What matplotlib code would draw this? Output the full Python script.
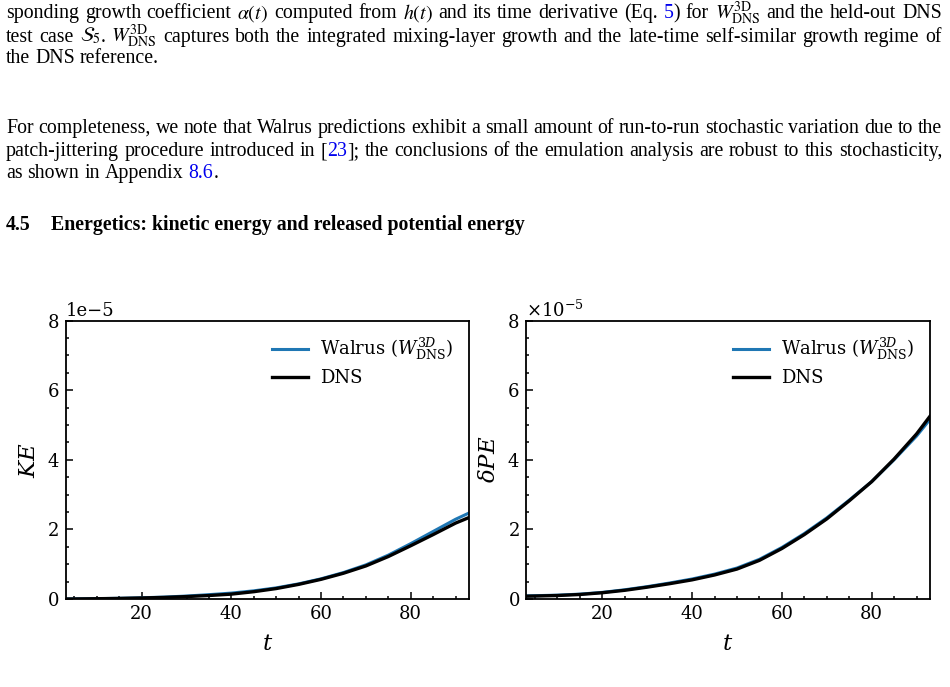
import matplotlib
matplotlib.use("Agg")
import matplotlib.pyplot as plt
from matplotlib.ticker import MultipleLocator, ScalarFormatter

# ---------------- data ----------------
t = [3, 5, 10, 15, 20, 25, 30, 35, 40, 45, 50, 55, 60, 65, 70, 75, 80, 85, 90, 93]
ke_dns = [0.0, 0.002, 0.008, 0.016, 0.03, 0.045, 0.07, 0.10, 0.14, 0.21, 0.30,
          0.42, 0.565, 0.74, 0.95, 1.22, 1.53, 1.85, 2.18, 2.34]
ke_walrus = [0.0, 0.003, 0.01, 0.02, 0.035, 0.055, 0.085, 0.125, 0.17, 0.235, 0.32,
             0.435, 0.58, 0.76, 0.98, 1.26, 1.59, 1.94, 2.29, 2.47]
pe_dns = [0.08, 0.085, 0.10, 0.13, 0.18, 0.25, 0.34, 0.44, 0.55, 0.69, 0.86,
          1.11, 1.45, 1.85, 2.30, 2.82, 3.37, 4.02, 4.74, 5.25]
pe_walrus = [0.09, 0.095, 0.11, 0.14, 0.19, 0.265, 0.355, 0.46, 0.575, 0.715, 0.89,
             1.14, 1.48, 1.88, 2.33, 2.84, 3.37, 4.00, 4.68, 5.16]
scale = 1e-5
walrus_label = r'Walrus ($W^{3D}_{\mathrm{DNS}}$)'
dns_label = 'DNS'

W, H = 950, 687
plt.rcParams['font.family'] = 'DejaVu Serif'
plt.rcParams['mathtext.fontset'] = 'dejavuserif'
fig = plt.figure(figsize=(W / 100, H / 100), dpi=100)


def ax_rect(x0, x1, ytop, ybot):
    return [x0 / W, 1 - ybot / H, (x1 - x0) / W, (ybot - ytop) / H]


panels = [
    (ax_rect(65.5, 469, 320.5, 599), ke_walrus, ke_dns, r'$KE$', False),
    (ax_rect(526, 930, 320.5, 599), pe_walrus, pe_dns, r'$\delta PE$', True),
]

for rect, yw, yd, ylab, mathoff in panels:
    ax = fig.add_axes(rect)
    ax.plot(t, [v * scale for v in yw], color='#1f77b4', lw=2.2, label=walrus_label)
    ax.plot(t, [v * scale for v in yd], color='black', lw=2.4, label=dns_label)
    ax.set_xlim(3, 93)
    ax.set_ylim(0, 8e-5)
    ax.set_xticks([20, 40, 60, 80])
    ax.set_yticks([0, 2e-5, 4e-5, 6e-5, 8e-5])
    ax.xaxis.set_minor_locator(MultipleLocator(5))
    ax.yaxis.set_minor_locator(MultipleLocator(0.5e-5))
    fmt = ScalarFormatter(useMathText=mathoff)
    fmt.set_powerlimits((-1, 1))
    ax.yaxis.set_major_formatter(fmt)
    ax.tick_params(which='both', direction='in', top=False, right=False,
                   labelsize=13, width=1.1)
    ax.tick_params(which='major', length=5, pad=4.5)
    ax.tick_params(which='minor', length=2.5)
    ax.yaxis.get_offset_text().set_fontsize(13)
    for s in ax.spines.values():
        s.set_linewidth(1.3)
    ax.set_xlabel(r'$t$', fontsize=16.5, labelpad=7)
    ax.set_ylabel(ylab, fontsize=16.5, labelpad=5.5)
    ax.legend(loc='upper right', frameon=False, fontsize=13,
              labelspacing=0.4, handletextpad=0.65, borderaxespad=0.45)

# ---------------- paper text ----------------
renderer = fig.canvas.get_renderer()
BLUE = '#0000ee'
TX0, TX1 = 6, 942
FS = 14.3


def draw_line(words, y_px, justify=True, weight='normal'):
    """words: list of words, each a list of (string, color) segments."""
    items = []
    widths = []
    for word in words:
        segs = []
        wsum = 0.0
        for s, c in word:
            txt = fig.text(0, 1 - y_px / H, s, fontsize=FS, family='Liberation Serif',
                           math_fontfamily='stix', color=c or 'black', weight=weight,
                           va='baseline', ha='left')
            bb = txt.get_window_extent(renderer)
            segs.append((txt, wsum))
            wsum += bb.width
        items.append(segs)
        widths.append(wsum)
    n = len(words)
    if justify and n > 1:
        gap = (TX1 - TX0 - sum(widths)) / (n - 1)
    else:
        sp = fig.text(0, 0, 'a a', fontsize=FS, family='Liberation Serif')
        sp2 = fig.text(0, 0, 'aa', fontsize=FS, family='Liberation Serif')
        gap = sp.get_window_extent(renderer).width - sp2.get_window_extent(renderer).width
        sp.remove(); sp2.remove()
    x = TX0
    for segs, w in zip(items, widths):
        for txt, off in segs:
            txt.set_x((x + off) / W)
        x += w + gap


def parse(line):
    out = []
    for w in line:
        if isinstance(w, list):
            out.append(w)
        else:
            out.append([(w, None)])
    return out


WDNS = r'$W^{\mathrm{3D}}_{\mathrm{DNS}}$'
line1 = "sponding growth coefficient".split() + [r'$\alpha(t)$'] + "computed from".split() + \
    [r'$h(t)$'] + "and its time derivative (Eq.".split() + [[('5', BLUE), (')', None)]] + \
    ['for', WDNS] + "and the held-out DNS".split()
line2 = ["test", "case", [(r'$\mathcal{S}_5$', None), ('.', None)], WDNS] + \
    "captures both the integrated mixing-layer growth and the late-time self-similar growth regime of".split()
line3 = "the DNS reference.".split()
line4 = "For completeness, we note that Walrus predictions exhibit a small amount of run-to-run stochastic variation due to the".split()
line5 = "patch-jittering procedure introduced in".split() + [[('[', None), ('23', BLUE), ('];', None)]] + \
    "the conclusions of the emulation analysis are robust to this stochasticity,".split()
line6 = "as shown in Appendix".split() + [[('8.6', BLUE), ('.', None)]]

draw_line(parse(line1), 18.3)
draw_line(parse(line2), 41.7)
draw_line(parse(line3), 63.3, justify=False)
draw_line(parse(line4), 133.3)
draw_line(parse(line5), 156.0)
draw_line(parse(line6), 177.7, justify=False)

fig.text(TX0 / W, 1 - 230 / H, '4.5', fontsize=FS, family='Liberation Serif',
         weight='bold', va='baseline')
fig.text(51 / W, 1 - 230 / H, 'Energetics: kinetic energy and released potential energy',
         fontsize=FS, family='Liberation Serif', weight='bold', va='baseline')

fig.savefig('out.png', dpi=100)
